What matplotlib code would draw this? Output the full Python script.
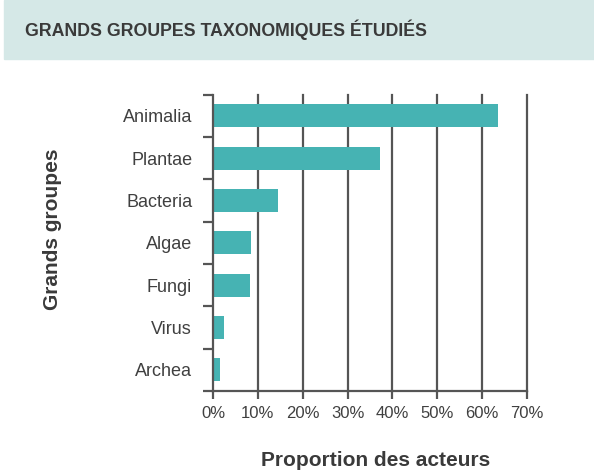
import matplotlib
matplotlib.use("Agg")
import matplotlib.pyplot as plt
from matplotlib.patches import Rectangle
from matplotlib.ticker import PercentFormatter

# data
groups = ["Animalia", "Plantae", "Bacteria", "Algae", "Fungi", "Virus", "Archea"]
shares = [63.5, 37.3, 14.5, 8.5, 8.3, 2.5, 1.6]
x_ticks = [0, 10, 20, 30, 40, 50, 60, 70]

title = "GRANDS GROUPES TAXONOMIQUES ÉTUDIÉS"
x_label = "Proportion des acteurs"
y_label = "Grands groupes"

bar_color = "#46b3b3"
axis_color = "#555555"
text_color = "#404040"

plt.rcParams["font.family"] = ["Liberation Sans", "DejaVu Sans"]

fig = plt.figure(figsize=(5.94, 4.72), dpi=100)

# header band
fig.patches.append(Rectangle((4 / 594, 1 - 59 / 472), 1, 59 / 472,
                             transform=fig.transFigure, color="#d5e8e7", zorder=0))
fig.text(25 / 594, 1 - 30 / 472, title, fontsize=12.8, fontweight="bold",
         color="#3a3a3a", va="center", ha="left")

ax = fig.add_axes([213 / 594, 1 - 391 / 472, (527 - 213) / 594, (391 - 94.7) / 472])

pos = list(range(len(groups)))
ax.barh(pos, shares, height=0.54, color=bar_color, zorder=2)
ax.set_ylim(len(groups) - 0.5, -0.5)
ax.set_xlim(0, 70)

# vertical grid lines
for t in x_ticks[1:]:
    ax.axvline(t, color=axis_color, lw=1.6, zorder=1, clip_on=False)

ax.set_xticks(x_ticks)
ax.xaxis.set_major_formatter(PercentFormatter(decimals=0))
ax.set_yticks([p - 0.5 for p in pos] + [len(groups) - 0.5])
ax.set_yticklabels([])
ax.set_yticks(pos, minor=True)
ax.set_yticklabels(groups, minor=True)
ax.tick_params(axis="y", which="minor", length=0, pad=15, labelsize=13, labelcolor=text_color)
ax.tick_params(axis="y", which="major", length=7, width=1.6, color=axis_color)
ax.tick_params(axis="x", length=6, width=1.6, color=axis_color, pad=5,
               labelsize=12, labelcolor=text_color)

for side in ["top", "right"]:
    ax.spines[side].set_visible(False)
for side in ["left", "bottom"]:
    ax.spines[side].set_color(axis_color)
    ax.spines[side].set_linewidth(1.6)

fig.text(376 / 594, 1 - 461 / 472, x_label, fontsize=15, fontweight="bold",
         color="#3a3a3a", ha="center", va="center")
fig.text(53 / 594, 1 - 229 / 472, y_label, fontsize=15, fontweight="bold",
         color="#3a3a3a", ha="center", va="center", rotation=90)

fig.savefig("out.png", dpi=100)
